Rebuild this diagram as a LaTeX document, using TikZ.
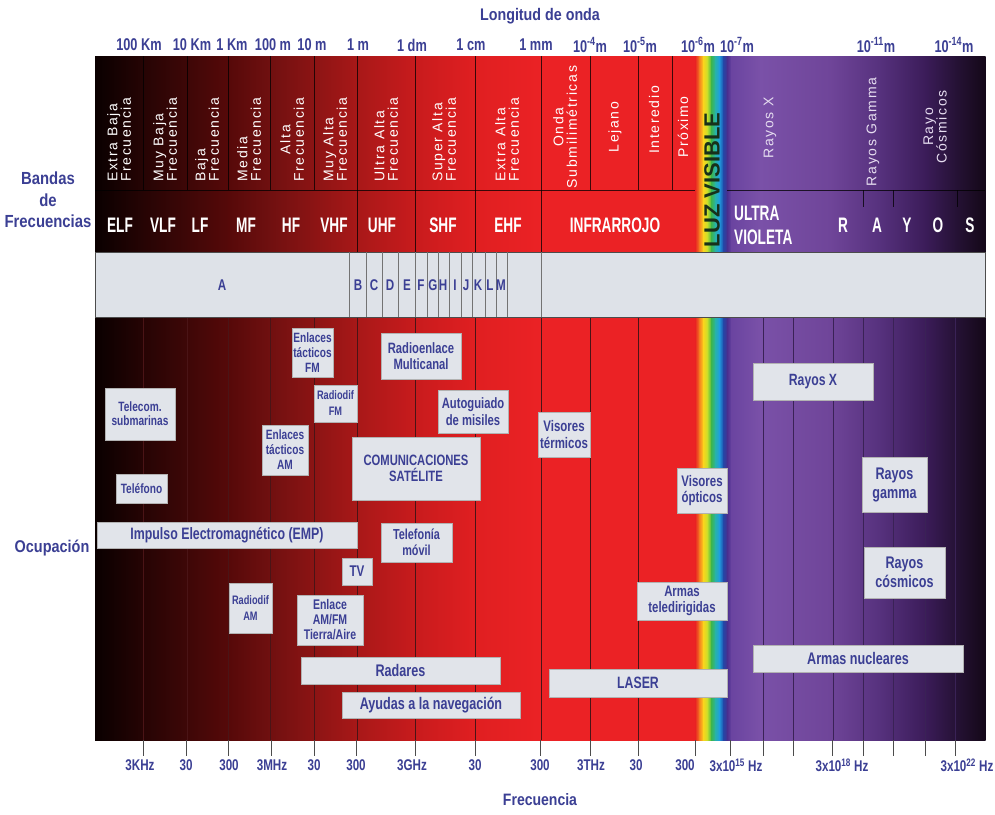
\documentclass[tikz,border=0pt]{standalone}
\usepackage{fontspec}
\setmainfont{Liberation Sans}
\newfontfamily\nfont{Liberation Sans}[FakeStretch=0.75]
\newfontfamily\tfont{Liberation Sans}[FakeStretch=0.85]
\newfontfamily\bandfont{Liberation Sans}[FakeStretch=0.65]
\newfontfamily\vfont{Liberation Sans}[LetterSpace=12]
\usetikzlibrary{shadows}
\newcommand\myfs[2]{\fontsize{#1}{#2}\selectfont}
\definecolor{txtblue}{HTML}{3B3F94}
\definecolor{boxfill}{HTML}{E1E4EA}
\definecolor{barfill}{HTML}{DEE2E8}
\definecolor{luzgreen}{HTML}{17301A}
\definecolor{redline}{HTML}{4A1416}
\definecolor{vioLine}{HTML}{3A2256}
\definecolor{lav}{HTML}{E6DDF0}
% gradient stops
\definecolor{s95}{HTML}{0A0000}
\definecolor{s143}{HTML}{260404}
\definecolor{s187}{HTML}{3E0707}
\definecolor{s228}{HTML}{560909}
\definecolor{s270}{HTML}{701010}
\definecolor{s314}{HTML}{8C1414}
\definecolor{s357}{HTML}{A81818}
\definecolor{s415}{HTML}{C81B1D}
\definecolor{s475}{HTML}{E01F21}
\definecolor{s541}{HTML}{EB2225}
\definecolor{s695}{HTML}{E82222}
\definecolor{s699}{HTML}{F47C20}
\definecolor{s703}{HTML}{FBD51C}
\definecolor{s707}{HTML}{C8DF2A}
\definecolor{s711}{HTML}{3DB54A}
\definecolor{s715}{HTML}{28B3A8}
\definecolor{s719}{HTML}{1F9EDF}
\definecolor{s723}{HTML}{2248A8}
\definecolor{s727}{HTML}{4A2E8E}
\definecolor{s731}{HTML}{6A44A0}
\definecolor{s760}{HTML}{7A51A8}
\definecolor{s830}{HTML}{6F4599}
\definecolor{s880}{HTML}{56317D}
\definecolor{s925}{HTML}{3B1C59}
\definecolor{s955}{HTML}{261236}
\definecolor{s985}{HTML}{140818}
\begin{document}
\begin{tikzpicture}[x=1pt,y=-1pt,
  occ/.style={draw=white!70!black, line width=0.4pt, fill=boxfill, text=txtblue,
    align=center, inner sep=1pt,
    drop shadow={shadow xshift=1.2pt, shadow yshift=-1.4pt, opacity=0.5}},
  vtxt/.style={rotate=90, text=white, font=\vfont\myfs{14}{13.5}, inner sep=0pt},
  band/.style={text=white, font=\bandfont\bfseries\myfs{21}{24}, inner sep=0pt},
  axl/.style={text=txtblue, font=\nfont\bfseries\myfs{17}{17}, inner sep=0pt},
  bxl/.style={text=txtblue, font=\nfont\bfseries\myfs{15.5}{16}, inner sep=0pt},
  barl/.style={text=txtblue, font=\nfont\bfseries\myfs{15.5}{15.5}, inner sep=0pt},
  ttl/.style={text=txtblue, font=\tfont\bfseries, inner sep=0pt, align=center},
  hline/.style={black, opacity=0.75, line width=0.5pt},
  rline/.style={redline, line width=0.8pt},
  vline/.style={vioLine, line width=0.8pt},
  tick/.style={black!70, line width=0.8pt}]
\useasboundingbox (0,0) rectangle (995,814);
\fill[white] (0,0) rectangle (995,814);
% background gradient
\foreach \a/\b/\ca/\cb in {95/143/s95/s143,143/187/s143/s187,187/228/s187/s228,
  228/270/s228/s270,270/314/s270/s314,314/357/s314/s357,357/415/s357/s415,
  415/475/s415/s475,475/541/s475/s541,541/695/s541/s541,
  695/699/s695/s699,699/703/s699/s703,703/707/s703/s707,707/711/s707/s711,
  711/715/s711/s715,715/719/s715/s719,719/723/s719/s723,723/727/s723/s727,
  727/731/s727/s731,731/760/s731/s760,760/830/s760/s830,830/880/s830/s880,
  880/925/s880/s925,925/955/s925/s955,955/985/s955/s985}
  \shade[left color=\ca, right color=\cb] (\a,56) rectangle (\b+0.6,740);
% header lines
\foreach \x in {143,187,228,270,314,357,415,475,541,590,638,672}
  \draw[hline] (\x,56) -- (\x,190);
\foreach \x in {357,415,475,541}
  \draw[hline] (\x,190) -- (\x,252);
\foreach \x in {863,893,957}
  \draw[hline] (\x,190) -- (\x,207);
\draw[hline] (95,190) -- (695,190);
\draw[hline] (727,190) -- (985,190);
% lower lines
\foreach \x in {143,187,228,270,314,357,415,475,541,590,638}
  \draw[rline] (\x,317) -- (\x,740);
\foreach \x in {763,793,833,863,893,925,955}
  \draw[vline] (\x,317) -- (\x,740);
% bottom ticks
\foreach \x in {143,186,228,271,314,356,415,475,540,590,638,695,730,763,793,832,863,893,925,955}
  \draw[tick] (\x,740) -- (\x,756);
% grey bar
\draw[fill=barfill, draw=black!70, line width=0.6pt] (95,252) rectangle (985,317);
\foreach \x in {349,366,382,398,415,427,438,449,461,472,485,496,507,541}
  \draw[black!55, line width=0.5pt] (\x,252) -- (\x,317);
\foreach \x/\t in {222/A,358/B,374/C,390/D,407/E,421/F,433/G,443/H,455/I,466/J,478/K,490/L,501/M}
  \node[barl] (bar\t) at (\x,285) {\t};
% vertical header texts
\node[vtxt, anchor=west, align=left] (h1) at (119,182) {Extra Baja\\Frecuencia};
\node[vtxt, anchor=west, align=left] (h2) at (165,182) {Muy Baja\\Frecuencia};
\node[vtxt, anchor=west, align=left] (h3) at (207,182) {Baja\\Frecuencia};
\node[vtxt, anchor=west, align=left] (h4) at (249,182) {Media\\Frecuencia};
\node[vtxt, anchor=west, align=center] (h5) at (292,182) {Alta\\Frecuencia};
\node[vtxt, anchor=west, align=left] (h6) at (335,182) {Muy Alta\\Frecuencia};
\node[vtxt, anchor=west, align=left] (h7) at (386,182) {Ultra Alta\\Frecuencia};
\node[vtxt, anchor=west, align=left] (h8) at (444,182) {Super Alta\\Frecuencia};
\node[vtxt, anchor=west, align=left] (h9) at (507,182) {Extra Alta\\Frecuencia};
\node[vtxt, align=center] (h10) at (565,127) {Onda\\Submilimétricas};
\node[vtxt] (h11) at (615,127) {Lejano};
\node[vtxt] (h12) at (654,120) {Interedio};
\node[vtxt] (h13) at (683,127) {Próximo};
\node[vtxt, text=lav] (h14) at (770,128) {Rayos X};
\node[vtxt, text=lav] (h15) at (873,132) {Rayos Gamma};
\node[vtxt, text=lav, align=center] (h16) at (935,127) {Rayo\\Cósmicos};
\node[rotate=90, font=\bfseries\myfs{22}{22}, text=luzgreen, inner sep=0pt] (luz) at (712,180) {LUZ VISIBLE};
% band row
\foreach \x/\t in {120/ELF,163/VLF,200/LF,246/MF,291/HF,334/VHF,382/UHF,443/SHF,508/EHF,615/INFRARROJO,843/R,877/A,907/Y,938/O,970/S}
  \node[band] (b\t) at (\x,225) {\t};
\node[band, anchor=west, align=left] (buv) at (734,225) {ULTRA\\VIOLETA};
% axis labels
\node[ttl, font=\tfont\bfseries\myfs{16.8}{17}] (tlon) at (540,16) {Longitud de onda};
\foreach \x/\t [count=\i] in {139/{100 Km},192/{10 Km},232/{1 Km},273/{100 m},312/{10 m},358/{1 m},412/{1 dm},471/{1 cm},536/{1 mm},
  590/{10\textsuperscript{-4}m},640/{10\textsuperscript{-5}m},698/{10\textsuperscript{-6}m},737/{10\textsuperscript{-7}m},
  876/{10\textsuperscript{-11}m},954/{10\textsuperscript{-14}m}}
  \node[axl] (top\i) at (\x,45) {\t};
\foreach \x/\t [count=\i] in {140/3KHz,186/30,229/300,272/3MHz,314/30,356/300,412/3GHz,475/30,540/300,591/3THz,636/30,685/300,
  736/{3x10\textsuperscript{15} Hz},842/{3x10\textsuperscript{18} Hz},967/{3x10\textsuperscript{22} Hz}}
  \node[bxl] (bot\i) at (\x,765) {\t};
\node[ttl, font=\tfont\bfseries\myfs{16.5}{17}] (tfre) at (540,800) {Frecuencia};
\node[ttl, font=\tfont\bfseries\myfs{17.5}{21.5}] (tband) at (48,200) {Bandas\\de\\Frecuencias};
\node[ttl, font=\tfont\bfseries\myfs{17}{17}] (tocu) at (52,548) {Ocupación};
% occupation boxes
\node[occ, font=\nfont\bfseries\myfs{13.5}{15}, minimum width=41pt, minimum height=49pt] (tfm) at (312.5,352.5) {Enlaces\\tácticos\\FM};
\node[occ, font=\nfont\bfseries\myfs{15}{16.5}, minimum width=80pt, minimum height=46pt] (rml) at (421,356) {Radioenlace\\Multicanal};
\node[occ, font=\nfont\bfseries\myfs{12.3}{16}, minimum width=43pt, minimum height=37pt] (rfm) at (335.5,403.5) {Radiodif\\FM};
\node[occ, font=\nfont\bfseries\myfs{13.5}{14}, minimum width=70pt, minimum height=52pt] (tel) at (140,414) {Telecom.\\submarinas};
\node[occ, font=\nfont\bfseries\myfs{15}{16.5}, minimum width=70pt, minimum height=43pt] (aut) at (473,411.5) {Autoguiado\\de misiles};
\node[occ, font=\nfont\bfseries\myfs{13.5}{15}, minimum width=46pt, minimum height=50pt] (tam) at (285,450) {Enlaces\\tácticos\\AM};
\node[occ, font=\nfont\bfseries\myfs{15}{16}, minimum width=128pt, minimum height=63pt] (sat) at (416,468.5) {COMUNICACIONES\\SATÉLITE};
\node[occ, font=\nfont\bfseries\myfs{13.5}{15}, minimum width=51pt, minimum height=29pt] (tfn) at (141.5,488.5) {Teléfono};
\node[occ, font=\nfont\bfseries\myfs{16.5}{17}, minimum width=260pt, minimum height=26pt] (emp) at (227,535) {Impulso Electromagnético (EMP)};
\node[occ, font=\nfont\bfseries\myfs{14.5}{16}, minimum width=71pt, minimum height=39pt] (mov) at (416.5,542.5) {Telefonía\\móvil};
\node[occ, font=\nfont\bfseries\myfs{15.5}{16}, minimum width=30pt, minimum height=27pt] (tv) at (357,571.5) {TV};
\node[occ, font=\nfont\bfseries\myfs{12.3}{16}, minimum width=43pt, minimum height=50pt] (ram) at (250.5,608) {Radiodif\\AM};
\node[occ, font=\nfont\bfseries\myfs{14}{15}, minimum width=66pt, minimum height=50pt] (eaf) at (330,620) {Enlace\\AM/FM\\Tierra/Aire};
\node[occ, font=\nfont\bfseries\myfs{16.8}{17}, minimum width=199pt, minimum height=27pt] (rad) at (400.5,670.5) {Radares};
\node[occ, font=\nfont\bfseries\myfs{16.8}{17}, minimum width=178pt, minimum height=26pt] (nav) at (431,705) {Ayudas a la navegación};
\node[occ, font=\nfont\bfseries\myfs{16.3}{17}, minimum width=120pt, minimum height=37pt] (rx) at (813,381.5) {Rayos X};
\node[occ, font=\nfont\bfseries\myfs{15.3}{16.5}, minimum width=52pt, minimum height=45pt] (vte) at (564,434.5) {Visores\\térmicos};
\node[occ, font=\nfont\bfseries\myfs{15.3}{16.5}, minimum width=50pt, minimum height=45pt] (vop) at (702,490.5) {Visores\\ópticos};
\node[occ, font=\nfont\bfseries\myfs{16.8}{19}, minimum width=65pt, minimum height=55pt] (rg) at (894.5,484.5) {Rayos\\gamma};
\node[occ, font=\nfont\bfseries\myfs{16.8}{18.5}, minimum width=81pt, minimum height=51pt] (rc) at (904.5,572.5) {Rayos\\cósmicos};
\node[occ, font=\nfont\bfseries\myfs{15.2}{16}, minimum width=90pt, minimum height=38pt] (atd) at (682,601) {Armas\\teledirigidas};
\node[occ, font=\nfont\bfseries\myfs{16.8}{17}, minimum width=210pt, minimum height=27pt] (anu) at (858,658.5) {Armas nucleares};
\node[occ, font=\nfont\bfseries\myfs{16.4}{17}, minimum width=178pt, minimum height=28pt] (las) at (638,683) {LASER};
\end{tikzpicture}
\end{document}
